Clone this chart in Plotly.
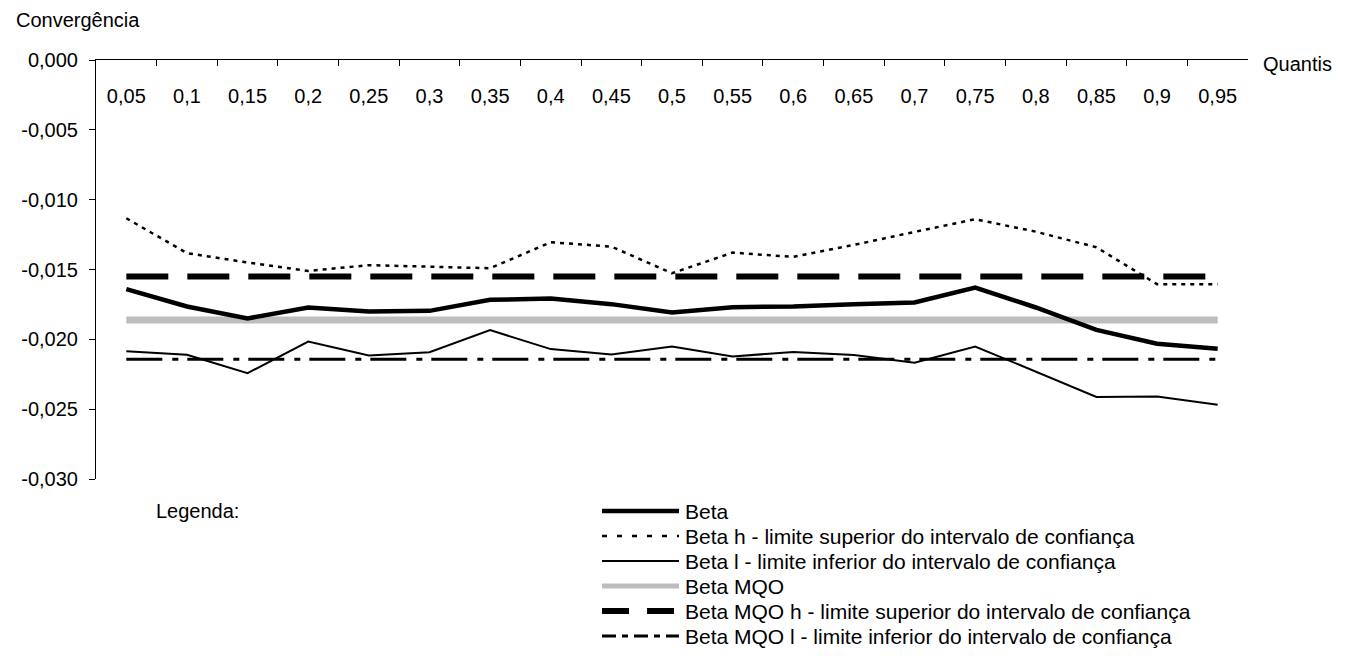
import plotly.graph_objects as go

quantis = ["0,05", "0,1", "0,15", "0,2", "0,25", "0,3", "0,35", "0,4", "0,45", "0,5",
           "0,55", "0,6", "0,65", "0,7", "0,75", "0,8", "0,85", "0,9", "0,95"]

beta = [-0.01641, -0.01765, -0.01850, -0.01772, -0.01801, -0.01796, -0.01717, -0.01708,
        -0.01748, -0.01808, -0.01770, -0.01765, -0.01748, -0.01736, -0.01629, -0.01772,
        -0.01932, -0.02032, -0.02068]
beta_h = [-0.01133, -0.01383, -0.01450, -0.01510, -0.01469, -0.01479, -0.01491, -0.01305,
          -0.01336, -0.01527, -0.01379, -0.01410, -0.01324, -0.01231, -0.01140, -0.01229,
          -0.01341, -0.01605, -0.01605]
beta_l = [-0.02085, -0.02111, -0.02242, -0.02016, -0.02116, -0.02092, -0.01934, -0.02070,
          -0.02109, -0.02051, -0.02123, -0.02090, -0.02113, -0.02168, -0.02051, -0.02230,
          -0.02412, -0.02409, -0.02469]
beta_mqo_value = -0.01861
beta_mqo_h_value = -0.01550
beta_mqo_l_value = -0.02142
beta_mqo = [beta_mqo_value] * len(quantis)
beta_mqo_h = [beta_mqo_h_value] * len(quantis)
beta_mqo_l = [beta_mqo_l_value] * len(quantis)

y_tickvals = [0.0, -0.005, -0.010, -0.015, -0.020, -0.025, -0.030]
y_ticktext = ["0,000", "-0,005", "-0,010", "-0,015", "-0,020", "-0,025", "-0,030"]

names = [
    "Beta",
    "Beta h - limite superior do intervalo de confiança",
    "Beta l - limite inferior do intervalo de confiança",
    "Beta MQO",
    "Beta MQO h - limite superior do intervalo de confiança",
    "Beta MQO l - limite inferior do intervalo de confiança",
]

FONT = "Liberation Sans, Arial, sans-serif"
OFF = 8  # page body margin of the written html
W, H = 1347 - OFF, 667 - OFF
ML, MR, MT, MB = 96 - OFF, 99, 60 - OFF, 188
PW, PH = W - ML - MR, H - MT - MB

# series styles (legend order)
styles = [
    dict(color="black", width=4.5),
    dict(color="black", width=2.5, dash="4px,5px"),
    dict(color="black", width=2),
    dict(color="#bdbdbd", width=7),
    dict(color="black", width=6, dash="42px,19px"),
    dict(color="black", width=3, dash="36px,10px,6px,9px"),
]
legend_styles = [
    dict(color="black", width=4.5),
    dict(color="black", width=2.5, dash="5px,10px"),
    dict(color="black", width=2),
    dict(color="#bdbdbd", width=5),
    dict(color="black", width=6, dash="27px,18px"),
    dict(color="black", width=3, dash="14px,6px,6px,6px"),
]
series = [beta, beta_h, beta_l, beta_mqo, beta_mqo_h, beta_mqo_l]
draw_order = [3, 4, 5, 1, 2, 0]

fig = go.Figure()
for i in draw_order:
    fig.add_trace(go.Scatter(x=quantis, y=series[i], mode="lines", name=names[i],
                             line=styles[i], showlegend=False, hoverinfo="x+y+name"))

# helper invisible trace carrying the category labels axis (labels sit below the top line)
fig.add_trace(go.Scatter(x=list(range(len(quantis))), y=beta, xaxis="x2", mode="lines",
                         line=dict(width=0, color="rgba(0,0,0,0)"), showlegend=False,
                         hoverinfo="skip"))


def px_x(px):
    """screen pixel -> paper x"""
    return (px - OFF - ML) / PW


def px_y(py):
    """screen pixel -> paper y"""
    return (H - MB - (py - OFF)) / PH


# custom legend drawn in paper coordinates
row0, row_gap = 511, 25
sw_x0, sw_x1, txt_x = 602, 679, 683
shapes = []
annotations = []
for r, (nm, st) in enumerate(zip(names, legend_styles)):
    yy = px_y(row0 + r * row_gap)
    shapes.append(dict(type="line", xref="paper", yref="paper",
                       x0=px_x(sw_x0), x1=px_x(sw_x1), y0=yy, y1=yy, line=st))
    annotations.append(dict(text=nm, xref="paper", yref="paper", x=px_x(txt_x), y=yy,
                            xanchor="left", yanchor="middle", showarrow=False,
                            font=dict(family=FONT, size=21)))

annotations += [
    dict(text="Convergência", xref="paper", yref="paper", x=px_x(14), y=px_y(20),
         xanchor="left", yanchor="middle", showarrow=False, font=dict(family=FONT, size=20)),
    dict(text="Quantis", xref="paper", yref="paper", x=px_x(1261), y=px_y(64),
         xanchor="left", yanchor="middle", showarrow=False, font=dict(family=FONT, size=20)),
    dict(text="Legenda:", xref="paper", yref="paper", x=px_x(154), y=px_y(row0),
         xanchor="left", yanchor="middle", showarrow=False, font=dict(family=FONT, size=20)),
]

fig.update_layout(
    width=W, height=H,
    margin=dict(l=ML, r=MR, t=MT, b=MB, autoexpand=False),
    paper_bgcolor="white", plot_bgcolor="white",
    font=dict(family=FONT, size=20, color="black"),
    showlegend=False,
    xaxis=dict(
        type="category", side="top", range=[-0.5, len(quantis) - 0.5],
        showline=True, linecolor="black", linewidth=1,
        ticks="inside", ticklen=6, tickcolor="black", tickson="boundaries",
        showticklabels=False, showgrid=False, zeroline=False,
        automargin=False, fixedrange=True,
    ),
    xaxis2=dict(
        overlaying="x", anchor="free", side="top", position=px_y(107),
        range=[-0.5, len(quantis) - 0.5],
        tickmode="array", tickvals=list(range(len(quantis))), ticktext=quantis,
        ticks="", showline=False, showgrid=False, zeroline=False,
        tickfont=dict(family=FONT, size=20), automargin=False, fixedrange=True,
    ),
    yaxis=dict(
        range=[-0.030, 0.0], tickvals=y_tickvals, ticktext=y_ticktext,
        showline=True, linecolor="black", linewidth=1,
        ticks="outside", ticklen=6, tickcolor="black", ticklabelstandoff=7,
        showgrid=False, zeroline=False,
        tickfont=dict(family=FONT, size=20),
        automargin=False, fixedrange=True,
    ),
    shapes=shapes,
    annotations=annotations,
)

fig.write_html("out.html")
